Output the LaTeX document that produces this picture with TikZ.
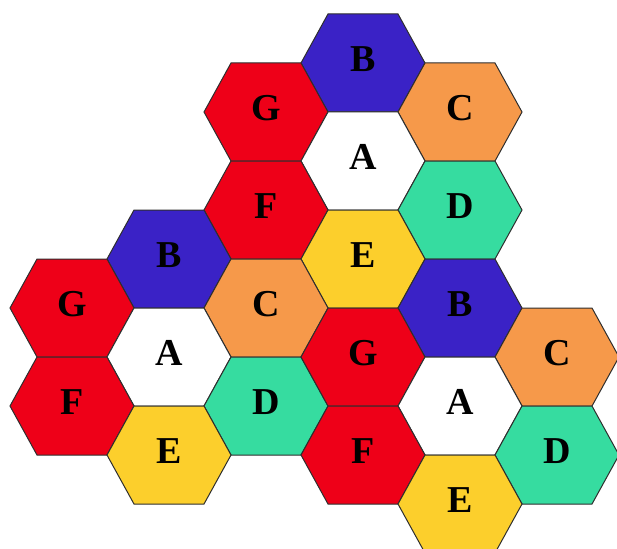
\documentclass[tikz,border=0pt]{standalone}
\usepackage{fontspec}
\setmainfont{Liberation Serif}
\usetikzlibrary{calc}
\definecolor{HexRed}{HTML}{EE0018}
\definecolor{HexBlue}{HTML}{3A22C6}
\definecolor{HexOrange}{HTML}{F6994A}
\definecolor{HexGreen}{HTML}{36DCA0}
\definecolor{HexYellow}{HTML}{FCCF2C}
\definecolor{EdgeGray}{HTML}{2E2E2E}

\begin{document}
\begin{tikzpicture}[
    x=1pt, y=-1pt,
    hexcell/.style={draw=EdgeGray, line width=1pt, line join=miter},
    letter/.style={font=\fontsize{38}{38}\selectfont\bfseries, text=black, inner sep=0pt}
  ]
  \useasboundingbox (0,0) rectangle (617,548);
  \clip (0,0) rectangle (617,548);

  % t = top cluster, l = left cluster, r = right cluster
  \foreach \n/\x/\y/\c/\l in {
      tB/363/63/HexBlue/B, tG/266/112/HexRed/G, tC/460/112/HexOrange/C,
      tA/363/161/white/A, tF/266/210/HexRed/F, tD/460/210/HexGreen/D,
      tE/363/259/HexYellow/E,
      lB/169/259/HexBlue/B, lG/72/308/HexRed/G, lC/266/308/HexOrange/C,
      lA/169/357/white/A, lF/72/406/HexRed/F, lD/266/406/HexGreen/D,
      lE/169/455/HexYellow/E,
      rB/460/308/HexBlue/B, rG/363/357/HexRed/G, rC/557/357/HexOrange/C,
      rA/460/406/white/A, rF/363/455/HexRed/F, rD/557/455/HexGreen/D,
      rE/460/504/HexYellow/E}
  {
    \draw[hexcell, fill=\c] (\x,\y) +(-62,0) -- +(-35,-49) -- +(35,-49)
      -- +(62,0) -- +(35,49) -- +(-35,49) -- cycle;
    \node[letter] (\n) at ($(\x,\y)+(0,-4)$) {\l};
  }
\end{tikzpicture}
\end{document}
